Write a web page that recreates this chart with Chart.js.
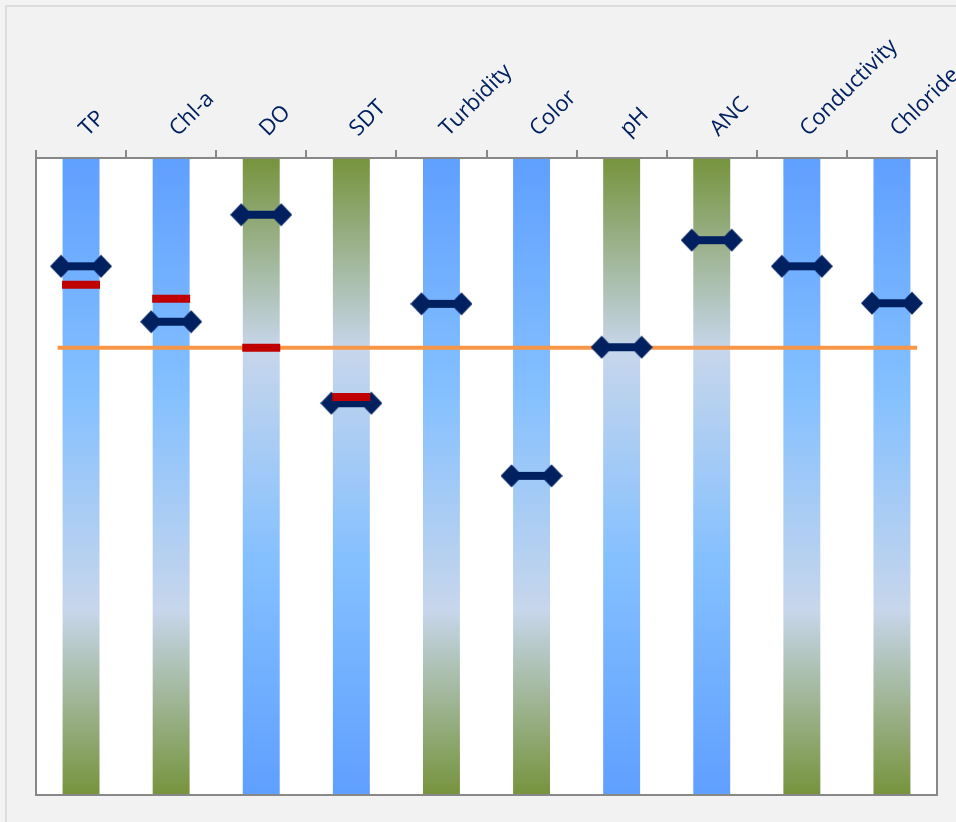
<!DOCTYPE html>
<html>
<head>
<meta charset="utf-8">
<script src="https://cdn.jsdelivr.net/npm/chart.js@4"></script>
<style>
  body { margin: 0; background: #f3f3f3; overflow: hidden; }
  #panel { position: absolute; left: 5px; top: 5px; width: 1000px; height: 900px; border: 2px solid #dcdcdc; background: #f2f2f2; }
  #wq-chart { position: absolute; left: 0; top: 0; }
</style>
</head>
<body>
<div id="panel"></div>
<canvas id="wq-chart" width="956" height="822"></canvas>
<script>
// parameters along the top axis
let categories = ['TP', 'Chl-a', 'DO', 'SDT', 'Turbidity', 'Color', 'pH', 'ANC', 'Conductivity', 'Chloride']
// full range of each track (0 - 100 scale)
let trackTop = [100, 100, 100, 100, 100, 100, 100, 100, 100, 100]
// true = blue at the top, green at the bottom
let blueOnTop = [true, true, false, false, true, true, false, false, true, true]
// current value marker (navy)
let currentValues = [83.0, 74.3, 91.1, 61.5, 77.1, 50.1, 70.3, 87.1, 83.0, 77.2]
// earlier value (red dash)
let previousValues = [80.1, 77.9, 70.2, 62.5, null, null, null, null, null, null]
// reference line (orange) and its span on the category index scale
let referenceValue = 70.2
let referenceSpan = [-0.26, 9.28]

// colours for the gradient tracks
let blue = '#5f9fff', lightBlue = '#84c0ff', pale = '#c7d6eb', green = '#76933c'

// marker: two diamonds joined by a bar, drawn once into a small canvas
let markerIcon = document.createElement('canvas')
markerIcon.width = 62
markerIcon.height = 24
let m = markerIcon.getContext('2d')
m.fillStyle = '#002060'
m.fillRect(11, 8, 40, 8)
;[11, 51].forEach(function(cx) {
    m.beginPath()
    m.moveTo(cx - 11, 12)
    m.lineTo(cx, 0.5)
    m.lineTo(cx + 11, 12)
    m.lineTo(cx, 23.5)
    m.closePath()
    m.fill()
})

// gradient for each track, built from the chart area
function trackColor(context) {
    let area = context.chart.chartArea
    if (!area) return blue
    let g = context.chart.ctx.createLinearGradient(0, area.top, 0, area.bottom)
    if (blueOnTop[context.dataIndex]) {
        g.addColorStop(0, blue)
        g.addColorStop(0.37, lightBlue)
        g.addColorStop(0.71, pale)
        g.addColorStop(1, green)
    } else {
        g.addColorStop(0, green)
        g.addColorStop(0.3, pale)
        g.addColorStop(0.63, lightBlue)
        g.addColorStop(1, blue)
    }
    return g
}

// white plot area and grey frame
let plotFrame = {
    id: 'plotFrame',
    beforeDraw(chart) {
        let a = chart.chartArea
        chart.ctx.save()
        chart.ctx.fillStyle = '#ffffff'
        chart.ctx.fillRect(a.left, a.top, a.right - a.left, a.bottom - a.top)
        chart.ctx.restore()
    },
    afterDraw(chart) {
        let a = chart.chartArea
        chart.ctx.save()
        chart.ctx.strokeStyle = '#888888'
        chart.ctx.lineWidth = 2
        chart.ctx.strokeRect(a.left, a.top, a.right - a.left, a.bottom - a.top)
        chart.ctx.restore()
    }
}

let chart = new Chart(document.querySelector('#wq-chart'), {
    type: 'bar',
    data: {
        labels: categories,
        datasets: [
            {
                type: 'bar',
                data: trackTop,
                backgroundColor: trackColor,
                grouped: false,
                barPercentage: 0.41,
                categoryPercentage: 1,
                order: 4
            },
            {
                type: 'line',
                xAxisID: 'x2',
                data: referenceSpan.map(x => ({x: x, y: referenceValue})),
                borderColor: '#f79646',
                borderWidth: 4,
                pointRadius: 0,
                order: 3
            },
            {
                type: 'line',
                data: currentValues,
                showLine: false,
                pointStyle: markerIcon,
                order: 2
            },
            {
                type: 'line',
                data: previousValues,
                showLine: false,
                pointStyle: 'line',
                pointRadius: 19,
                borderColor: '#c00000',
                pointBorderColor: '#c00000',
                pointBorderWidth: 8,
                order: 1
            }
        ]
    },
    options: {
        responsive: false,
        animation: false,
        events: [],
        layout: { autoPadding: false, padding: { left: 36, right: 19, top: 0, bottom: 27 } },
        plugins: { legend: { display: false }, tooltip: { enabled: false } },
        scales: {
            x: {
                position: 'top',
                offset: true,
                grid: { offset: true, drawOnChartArea: false, tickLength: 8, color: '#888888', lineWidth: 2 },
                border: { color: '#888888', width: 2 },
                ticks: {
                    minRotation: 45, maxRotation: 45, padding: 8, labelOffset: 21,
                    color: '#002060',
                    font: { family: 'Open Sans', size: 22 }
                },
                afterFit(scale) {
                    scale.height = 158
                    scale.paddingLeft = 0
                    scale.paddingRight = 0
                }
            },
            x2: { type: 'linear', min: -0.5, max: 9.5, offset: false, display: false },
            y: { min: 0, max: 100, display: false }
        }
    },
    plugins: [plotFrame]
})
</script>
</body>
</html>
